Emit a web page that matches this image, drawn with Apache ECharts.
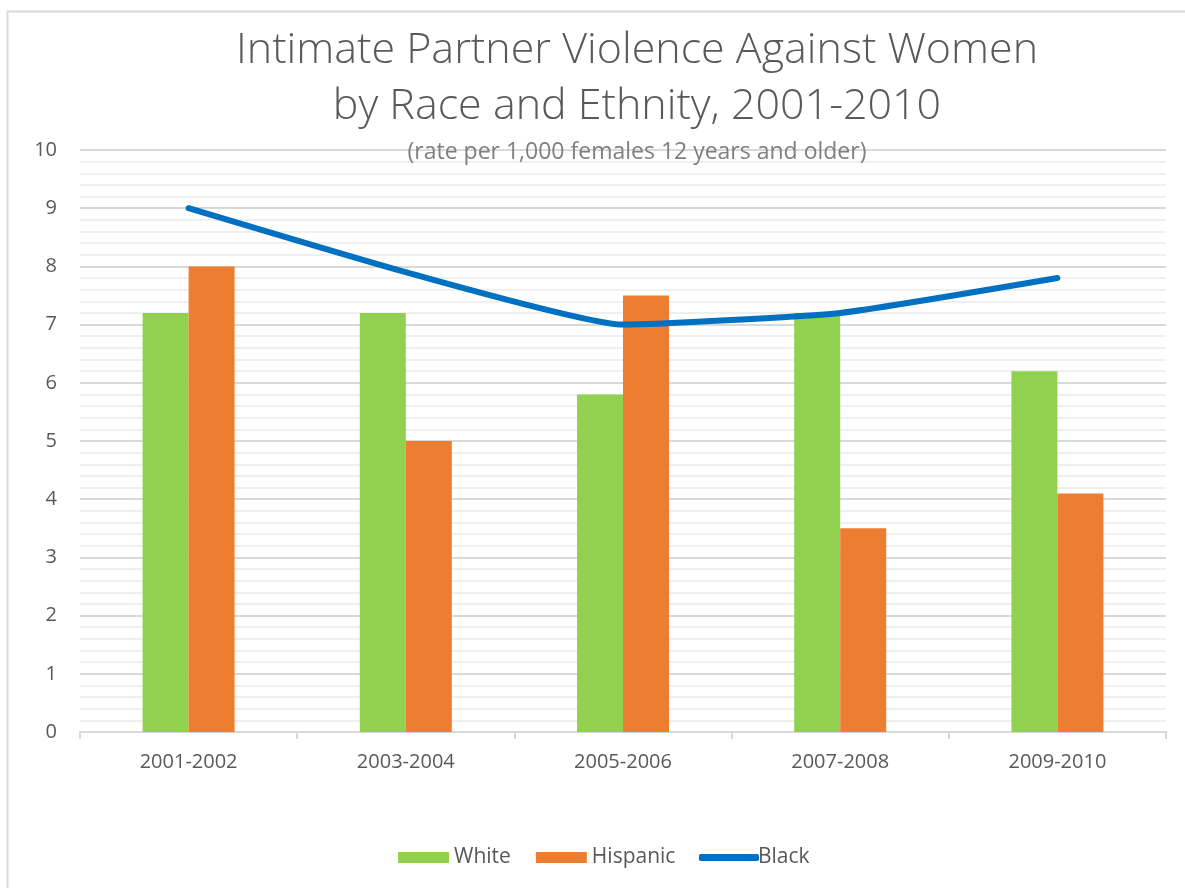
<!DOCTYPE html>
<html>
<head>
<meta charset="utf-8">
<script src="https://cdn.jsdelivr.net/npm/echarts@6/dist/echarts.min.js"></script>
<style>
  html, body { margin: 0; padding: 0; background: #fff; }
  #chart { width: 1185px; height: 888px; }
</style>
</head>
<body>
<div id="chart"></div>
<script>
// Rate per 1,000 females 12 years and older
const periods = ['2001-2002', '2003-2004', '2005-2006', '2007-2008', '2009-2010'];
const white = [7.2, 7.2, 5.8, 7.2, 6.2];
const hispanic = [8.0, 5.0, 7.5, 3.5, 4.1];
const black = [9.0, 7.9, 7.0, 7.2, 7.8];

const FONT = '"Open Sans", "Liberation Sans", sans-serif';
const TEXT = '#595959';

const chart = echarts.init(document.getElementById('chart'), null, { renderer: 'canvas' });

chart.setOption({
  backgroundColor: '#fff',
  animation: false,
  title: [
    {
      text: 'Intimate Partner Violence Against Women\nby Race and Ethnity, 2001-2010',
      left: 632, top: 18, textAlign: 'center',
      textStyle: { fontFamily: FONT, fontWeight: 300, fontSize: 43, color: TEXT, lineHeight: 56 }
    },
    {
      text: '(rate per 1,000 females 12 years and older)',
      left: 632, top: 136, textAlign: 'center',
      textStyle: { fontFamily: FONT, fontWeight: 'normal', fontSize: 23, color: '#7f7f7f' }
    }
  ],
  legend: [
    {
      data: ['White', 'Hispanic'],
      left: 393, top: 842,
      icon: 'rect', itemWidth: 51, itemHeight: 11, itemGap: 25,
      textStyle: { fontFamily: FONT, fontSize: 21, color: TEXT, padding: [0, 0, 0, 0] }
    },
    {
      data: [{ name: 'Black', icon: 'roundRect' }],
      left: 694, top: 842,
      itemWidth: 60, itemHeight: 7,
      textStyle: { fontFamily: FONT, fontSize: 21, color: TEXT, padding: [0, 0, 0, -6] }
    }
  ],
  grid: { left: 80, right: 19, top: 150, bottom: 156, containLabel: false },
  xAxis: {
    type: 'category',
    data: periods,
    axisLine: { lineStyle: { color: '#d9d9d9', width: 2 } },
    axisTick: { show: true, length: 7, lineStyle: { color: '#d9d9d9', width: 2 } },
    axisLabel: { fontFamily: FONT, fontSize: 20, color: TEXT, margin: 20 }
  },
  yAxis: {
    type: 'value',
    min: 0, max: 10, interval: 1,
    axisLine: { show: false },
    axisTick: { show: false },
    axisLabel: { fontFamily: FONT, fontSize: 20, color: TEXT, margin: 23 },
    splitLine: { lineStyle: { color: '#d9d9d9', width: 2 } },
    minorTick: { show: false, splitNumber: 5 },
    minorSplitLine: { show: true, lineStyle: { color: '#efefef', width: 2 } }
  },
  series: [
    {
      name: 'White', type: 'bar', data: white,
      barWidth: 46, barGap: '0%',
      itemStyle: { color: '#92d050' }
    },
    {
      name: 'Hispanic', type: 'bar', data: hispanic,
      barWidth: 46, barGap: '0%',
      itemStyle: { color: '#ed7d31' }
    },
    {
      name: 'Black', type: 'line', data: black,
      smooth: 0.15, showSymbol: false, symbol: 'none',
      lineStyle: { color: '#0070c0', width: 6, cap: 'round' },
      itemStyle: { color: '#0070c0' },
      z: 5
    }
  ],
  graphic: [
    {
      type: 'rect', silent: true, z: 100,
      shape: { x: 7.5, y: 11.5, width: 1200, height: 900 },
      style: { fill: 'none', stroke: '#d9d9d9', lineWidth: 2 }
    }
  ]
});
</script>
</body>
</html>
